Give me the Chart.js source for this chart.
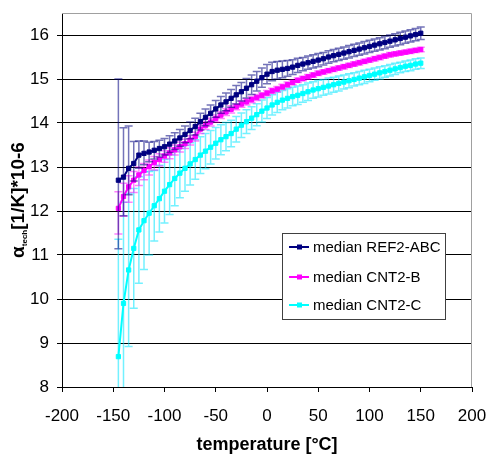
<!DOCTYPE html>
<html lang="en">
<head>
<meta charset="UTF-8">
<title>alpha tech</title>
<script src="https://cdn.jsdelivr.net/npm/chart.js@4.4.1/dist/chart.umd.min.js"></script>
<style>
  body { margin: 0; background: #fff; }
</style>
</head>
<body>
<canvas id="myChart" width="489" height="455"></canvas>
<script>
// temperature steps [°C]
const temps = [-145, -140, -135, -130, -125, -120, -115, -110, -105, -100,
  -95, -90, -85, -80, -75, -70, -65, -60, -55, -50,
  -45, -40, -35, -30, -25, -20, -15, -10, -5, 0,
  5, 10, 15, 20, 25, 30, 35, 40, 45, 50,
  55, 60, 65, 70, 75, 80, 85, 90, 95, 100,
  105, 110, 115, 120, 125, 130, 135, 140, 145, 150]

const ref2abc = [12.70, 12.77, 12.97, 13.08, 13.27, 13.31, 13.34, 13.38, 13.42, 13.46,
  13.52, 13.59, 13.66, 13.74, 13.83, 13.92, 14.03, 14.13, 14.22, 14.32,
  14.41, 14.48, 14.56, 14.64, 14.71, 14.79, 14.87, 14.95, 15.03, 15.11,
  15.17, 15.20, 15.22, 15.24, 15.27, 15.31, 15.34, 15.37, 15.40, 15.43,
  15.46, 15.50, 15.53, 15.56, 15.59, 15.62, 15.65, 15.68, 15.71, 15.74,
  15.77, 15.80, 15.83, 15.86, 15.89, 15.92, 15.95, 15.98, 16.01, 16.04]
const ref2abcUp = [2.30, 1.12, 0.96, 0.50, 0.32, 0.28, 0.22, 0.20, 0.19, 0.19,
  0.19, 0.19, 0.19, 0.19, 0.19, 0.19, 0.19, 0.19, 0.19, 0.19,
  0.19, 0.20, 0.20, 0.21, 0.21, 0.22, 0.22, 0.22, 0.22, 0.22,
  0.21, 0.20, 0.19, 0.18, 0.17, 0.16, 0.15, 0.15, 0.15, 0.15,
  0.14, 0.14, 0.14, 0.14, 0.14, 0.14, 0.14, 0.14, 0.14, 0.14,
  0.14, 0.14, 0.14, 0.14, 0.14, 0.14, 0.14, 0.14, 0.14, 0.14]
const ref2abcDown = [1.56, 0.88, 0.60, 0.40, 0.30, 0.26, 0.22, 0.20, 0.19, 0.19,
  0.19, 0.19, 0.19, 0.19, 0.19, 0.19, 0.19, 0.19, 0.19, 0.19,
  0.19, 0.20, 0.20, 0.21, 0.21, 0.22, 0.22, 0.22, 0.22, 0.22,
  0.21, 0.20, 0.19, 0.18, 0.17, 0.16, 0.15, 0.15, 0.15, 0.15,
  0.14, 0.14, 0.14, 0.14, 0.14, 0.14, 0.14, 0.14, 0.14, 0.14,
  0.14, 0.14, 0.14, 0.14, 0.14, 0.14, 0.14, 0.14, 0.14, 0.14]

const cnt2b = [12.06, 12.33, 12.55, 12.70, 12.82, 12.92, 13.01, 13.10, 13.17, 13.25,
  13.32, 13.39, 13.46, 13.53, 13.61, 13.69, 13.86, 13.94, 14.02, 14.10,
  14.18, 14.25, 14.31, 14.37, 14.43, 14.48, 14.53, 14.58, 14.63, 14.68,
  14.73, 14.77, 14.82, 14.87, 14.92, 14.97, 15.01, 15.05, 15.09, 15.13,
  15.16, 15.19, 15.22, 15.25, 15.28, 15.31, 15.34, 15.37, 15.40, 15.43,
  15.46, 15.49, 15.52, 15.55, 15.57, 15.59, 15.61, 15.63, 15.65, 15.67]
const cnt2bUp = [0.38, 0.30, 0.25, 0.20, 0.18, 0.16, 0.15, 0.14, 0.13, 0.12,
  0.12, 0.11, 0.11, 0.10, 0.10, 0.10, 0.09, 0.09, 0.09, 0.08,
  0.08, 0.08, 0.08, 0.07, 0.07, 0.07, 0.07, 0.07, 0.06, 0.06,
  0.06, 0.06, 0.06, 0.06, 0.05, 0.05, 0.05, 0.05, 0.05, 0.05,
  0.05, 0.05, 0.05, 0.05, 0.05, 0.05, 0.05, 0.05, 0.05, 0.05,
  0.05, 0.05, 0.05, 0.05, 0.05, 0.05, 0.05, 0.05, 0.05, 0.05]
const cnt2bDown = [0.58, 0.45, 0.35, 0.28, 0.24, 0.21, 0.19, 0.17, 0.15, 0.14,
  0.13, 0.12, 0.12, 0.11, 0.11, 0.10, 0.10, 0.09, 0.09, 0.08,
  0.08, 0.08, 0.08, 0.07, 0.07, 0.07, 0.07, 0.07, 0.06, 0.06,
  0.06, 0.06, 0.06, 0.06, 0.05, 0.05, 0.05, 0.05, 0.05, 0.05,
  0.05, 0.05, 0.05, 0.05, 0.05, 0.05, 0.05, 0.05, 0.05, 0.05,
  0.05, 0.05, 0.05, 0.05, 0.05, 0.05, 0.05, 0.05, 0.05, 0.05]

const cnt2c = [8.69, 9.90, 10.66, 11.15, 11.57, 11.78, 11.95, 12.12, 12.28, 12.45,
  12.60, 12.74, 12.86, 12.97, 13.07, 13.17, 13.27, 13.36, 13.45, 13.54,
  13.62, 13.69, 13.76, 13.86, 13.95, 14.03, 14.11, 14.19, 14.27, 14.34,
  14.41, 14.47, 14.52, 14.56, 14.60, 14.63, 14.67, 14.71, 14.75, 14.78,
  14.81, 14.84, 14.87, 14.90, 14.93, 14.96, 14.99, 15.02, 15.05, 15.08,
  15.11, 15.14, 15.17, 15.20, 15.23, 15.26, 15.29, 15.31, 15.34, 15.36]
const cnt2cErr = [2.67, 2.30, 1.74, 1.36, 1.21, 1.11, 0.95, 0.80, 0.76, 0.72,
  0.68, 0.62, 0.56, 0.52, 0.48, 0.45, 0.42, 0.40, 0.38, 0.36,
  0.34, 0.32, 0.30, 0.29, 0.28, 0.27, 0.26, 0.25, 0.25, 0.24,
  0.23, 0.23, 0.22, 0.22, 0.21, 0.21, 0.20, 0.20, 0.19, 0.19,
  0.18, 0.18, 0.17, 0.17, 0.16, 0.16, 0.15, 0.15, 0.15, 0.14,
  0.14, 0.14, 0.13, 0.13, 0.13, 0.12, 0.12, 0.12, 0.12, 0.12]

const xTicks = [-200, 200, 50]   // min, max, step
const yTicks = [8, 16.5, 1]

Chart.defaults.font.family = 'Arial, "Liberation Sans", sans-serif'
Chart.defaults.color = '#000'

const pts = (vals) => temps.map((t, i) => ({ x: t, y: vals[i] }))

// error bars, drawn just before each line
const errorBars = {
  id: 'errorBars',
  beforeDatasetDraw(chart, args) {
    const ds = chart.data.datasets[args.index]
    const { ctx, chartArea: a, scales: { y } } = chart
    ctx.save()
    ctx.beginPath()
    ctx.rect(a.left, a.top, a.right - a.left, a.bottom - a.top)
    ctx.clip()
    ctx.strokeStyle = ds.errColor
    ctx.lineWidth = 1.5
    args.meta.data.forEach((p, i) => {
      const v = ds.data[i].y
      const top = y.getPixelForValue(v + ds.errUp[i])
      const bot = y.getPixelForValue(v - ds.errDown[i])
      ctx.beginPath()
      ctx.moveTo(p.x, top); ctx.lineTo(p.x, bot)
      ctx.moveTo(p.x - 4, top); ctx.lineTo(p.x + 4, top)
      ctx.moveTo(p.x - 4, bot); ctx.lineTo(p.x + 4, bot)
      ctx.stroke()
    })
    ctx.restore()
  }
}

// gray plot frame on top and right
const frame = {
  id: 'frame',
  beforeDatasetsDraw(chart) {
    const { ctx, chartArea: a } = chart
    ctx.save()
    ctx.strokeStyle = '#a0a0a0'
    ctx.lineWidth = 1
    ctx.beginPath()
    ctx.moveTo(a.left, a.top + 0.5); ctx.lineTo(a.right - 0.5, a.top + 0.5)
    ctx.lineTo(a.right - 0.5, a.bottom)
    ctx.stroke()
    ctx.restore()
  }
}

// legend box inside the plot
const legendBox = {
  id: 'legendBox',
  afterDraw(chart) {
    const ctx = chart.ctx
    ctx.save()
    ctx.fillStyle = '#fff'
    ctx.strokeStyle = '#404040'
    ctx.lineWidth = 1
    ctx.fillRect(282.5, 233.5, 163, 86)
    ctx.strokeRect(282.5, 233.5, 163, 86)
    const rows = [247, 277, 305]
    chart.data.datasets.forEach((ds, i) => {
      const yy = rows[i]
      ctx.strokeStyle = ds.borderColor
      ctx.lineWidth = 2
      ctx.beginPath(); ctx.moveTo(289, yy); ctx.lineTo(309, yy); ctx.stroke()
      ctx.fillStyle = ds.borderColor
      ctx.fillRect(297, yy - 2.5, 5, 5)
      ctx.fillStyle = '#000'
      ctx.font = '15px Arial, "Liberation Sans", sans-serif'
      ctx.textBaseline = 'middle'
      ctx.fillText(ds.label, 313, yy + 1)
    })
    ctx.restore()
  }
}

// rotated y title with subscript
const yTitle = {
  id: 'yTitle',
  afterDraw(chart) {
    const ctx = chart.ctx
    const big = 'bold 19px Arial, "Liberation Sans", sans-serif'
    const small = 'bold 8px Arial, "Liberation Sans", sans-serif'
    ctx.save()
    ctx.fillStyle = '#000'
    ctx.textBaseline = 'alphabetic'
    ctx.font = big
    const wA = ctx.measureText('α').width
    const wR = ctx.measureText('[1/K]*10-6').width
    ctx.font = small
    const wS = ctx.measureText('tech').width
    const total = wA + wS + wR
    ctx.translate(24, 200)
    ctx.rotate(-Math.PI / 2)
    let x = -total / 2
    ctx.font = big
    ctx.fillText('α', x, 0); x += wA
    ctx.font = small
    ctx.fillText('tech', x, 3); x += wS
    ctx.font = big
    ctx.fillText('[1/K]*10-6', x, 0)
    ctx.restore()
  }
}

new Chart(document.getElementById('myChart'), {
  type: 'line',
  data: {
    datasets: [
      { label: 'median REF2-ABC', data: pts(ref2abc), errUp: ref2abcUp, errDown: ref2abcDown,
        borderColor: '#000080', backgroundColor: '#000080', errColor: 'rgba(0,0,128,0.55)' },
      { label: 'median CNT2-B', data: pts(cnt2b), errUp: cnt2bUp, errDown: cnt2bDown,
        borderColor: '#ff00ff', backgroundColor: '#ff00ff', errColor: 'rgba(255,0,255,0.5)' },
      { label: 'median CNT2-C', data: pts(cnt2c), errUp: cnt2cErr, errDown: cnt2cErr,
        borderColor: '#00ffff', backgroundColor: '#00ffff', errColor: 'rgba(0,230,255,0.55)' }
    ]
  },
  options: {
    responsive: false,
    animation: false,
    datasets: {
      line: { borderWidth: 2, tension: 0, pointStyle: 'rect', pointRadius: 3, pointBorderWidth: 1 }
    },
    layout: { padding: { top: 13, right: 17, left: 0, bottom: 0 } },
    plugins: { legend: { display: false }, tooltip: { enabled: false } },
    scales: {
      x: {
        type: 'linear', min: xTicks[0], max: xTicks[1],
        ticks: { stepSize: xTicks[2], font: { size: 17 }, padding: 14, maxRotation: 0 },
        grid: { drawOnChartArea: false, tickLength: 5, color: '#000' },
        border: { color: '#000' },
        title: { display: true, text: 'temperature [°C]', font: { size: 18, weight: 'bold' }, padding: { top: 0, bottom: -1 } },
        afterFit(s) { s.height = 68; s.paddingLeft = 0; s.paddingRight = 0 }
      },
      y: {
        min: yTicks[0], max: yTicks[1],
        ticks: { stepSize: yTicks[2], font: { size: 17 }, padding: 8 },
        afterBuildTicks(s) { s.ticks = s.ticks.filter(t => Number.isInteger(t.value)) },
        grid: { color: '#000', tickLength: 5 },
        border: { color: '#000' },
        afterFit(s) { s.width = 62; s.paddingTop = 0; s.paddingBottom = 0 }
      }
    }
  },
  plugins: [errorBars, frame, legendBox, yTitle]
})
</script>
</body>
</html>
